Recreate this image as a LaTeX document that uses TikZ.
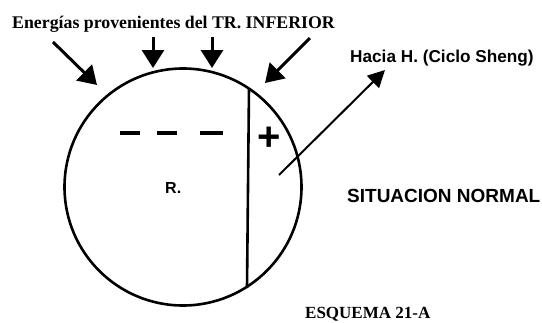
\documentclass[tikz,border=0pt]{standalone}
\usepackage{fontspec}
\setmainfont{Liberation Serif}
\setsansfont{Liberation Sans}
\usetikzlibrary{arrows.meta,positioning}

\begin{document}
\begin{tikzpicture}[x=1pt,y=-1pt,
    flecha/.style={line width=3pt,-{Triangle[length=18pt,width=22pt]}},
    raya/.style={line width=3.5pt},
    rotulo/.style={font=\sffamily\bfseries\fontsize{17.2}{19}\selectfont,anchor=base west,inner sep=0pt}]
        \useasboundingbox (0,0) rectangle (542,322);
        \node[circle,draw,line width=2.6pt,minimum size=237pt,inner sep=0pt] (organo) at (183,187) {};
        \draw[line width=2.6pt] (249,88) coordinate (div1) -- (247,288) coordinate (div2);
        % signos
        \foreach \a/\b in {120/140,157/177,200/223}
          \draw[raya] (\a,133) -- (\b,133);
        \node[font=\sffamily\bfseries\fontsize{40}{40}\selectfont,anchor=base,inner sep=0pt] (mas) at (269,150) {+};
        \node[font=\sffamily\bfseries\fontsize{16}{16}\selectfont,anchor=base west,inner sep=0pt] (r) at (165,193) {R.};
        % energias de entrada
        \coordinate (e1) at (53,42);  \coordinate (e1t) at (97,85);
        \coordinate (e2) at (153,37); \coordinate (e2t) at (153,68);
        \coordinate (e3) at (212,37); \coordinate (e3t) at (212,68);
        \coordinate (e4) at (310,38); \coordinate (e4t) at (265,83);
        \foreach \p in {e1,e2,e3,e4}
          \draw[flecha] (\p) -- (\p t);
        % salida
        \coordinate (hs) at (279,175); \coordinate (ht) at (385,70);
        \draw[line width=2pt,-{Triangle[length=17pt,width=17pt]}] (hs) -- (ht);
        % textos
        \node[font=\bfseries\fontsize{17.8}{20}\selectfont,anchor=base west,inner sep=0pt] (titulo) at (12,28) {Energías provenientes del TR. INFERIOR};
        \node[rotulo] (hacia) at (350,62) {Hacia H. (Ciclo Sheng)};
        \node[rotulo,font=\sffamily\bfseries\fontsize{19}{21}\selectfont] (normal) at (347,202) {SITUACION NORMAL};
        \node[font=\bfseries\fontsize{17}{19}\selectfont,anchor=base west,inner sep=0pt] (esquema) at (305,318) {ESQUEMA 21-A};
      \end{tikzpicture}
\end{document}
